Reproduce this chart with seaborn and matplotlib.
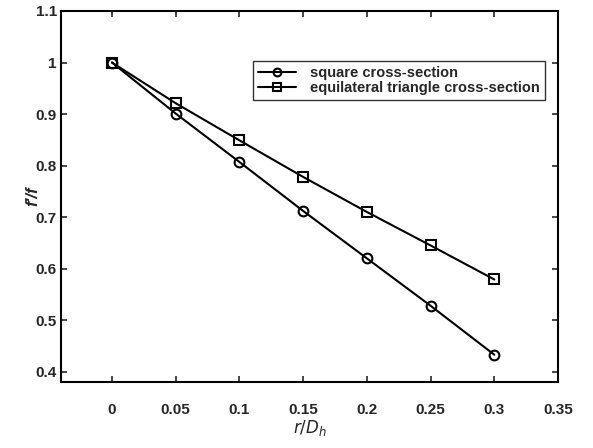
import matplotlib
matplotlib.use("Agg")
import matplotlib.pyplot as plt
import seaborn as sns
import pandas as pd

r_dh = [0.0, 0.05, 0.10, 0.15, 0.20, 0.25, 0.30]
square = [1.0, 0.901, 0.807, 0.712, 0.620, 0.528, 0.433]
triangle = [1.0, 0.921, 0.849, 0.778, 0.710, 0.645, 0.579]
series_names = ["square cross-section", "equilateral triangle cross-section"]
xticks = [0, 0.05, 0.1, 0.15, 0.2, 0.25, 0.3, 0.35]
yticks = [0.4, 0.5, 0.6, 0.7, 0.8, 0.9, 1.0, 1.1]

sns.set_style("ticks")
plt.rcParams['font.family'] = ['Liberation Sans', 'DejaVu Sans']

df = pd.DataFrame({
    "x": r_dh * 2,
    "y": square + triangle,
    "series": [series_names[0]] * len(r_dh) + [series_names[1]] * len(r_dh),
})

fig = plt.figure(figsize=(5.93, 4.48), dpi=100)
ax = fig.add_axes([61/593, 1 - 382/448, 497/593, 371/448])

sns.lineplot(data=df, x="x", y="y", hue="series", style="series",
             markers={series_names[0]: "o", series_names[1]: "s"},
             dashes=False, palette=["black", "black"], ax=ax,
             linewidth=1.5, markersize=7, markerfacecolor="none",
             markeredgecolor="black", markeredgewidth=1.5)

ax.set_xlim(-0.04, 0.35)
ax.set_ylim(0.38, 1.1)
ax.set_xticks(xticks)
ax.set_xticklabels(["0", "0.05", "0.1", "0.15", "0.2", "0.25", "0.3", "0.35"])
ax.set_yticks(yticks)
ax.set_yticklabels(["0.4", "0.5", "0.6", "0.7", "0.8", "0.9", "1", "1.1"])
ax.tick_params(direction="in", top=True, right=True, length=4, width=1.2,
               labelsize=11)
ax.tick_params(axis="x", pad=15)
ax.tick_params(axis="y", pad=3)
for lab in ax.get_xticklabels() + ax.get_yticklabels():
    lab.set_fontweight("bold")
for s in ax.spines.values():
    s.set_linewidth(1.5)
    s.set_color("black")

ax.set_xlabel(r"$r/D_h$", fontsize=12, va="center")
ax.xaxis.set_label_coords(0.5, -0.125)
ax.set_ylabel("f'/f", fontsize=12, style="italic", fontweight="bold", va="center")
ax.yaxis.set_label_coords(-0.056, 0.5)

leg = ax.legend(loc="upper right", bbox_to_anchor=(0.974, 0.865),
                frameon=True, fancybox=False, edgecolor="black",
                fontsize=10.5, handlelength=2.6, borderaxespad=0,
                labelspacing=0.05, markerscale=0.8, borderpad=0.35,
                handletextpad=1.0)
leg.get_frame().set_linewidth(1.0)
for t in leg.get_texts():
    t.set_fontweight("bold")

fig.savefig("out.png", dpi=100)
